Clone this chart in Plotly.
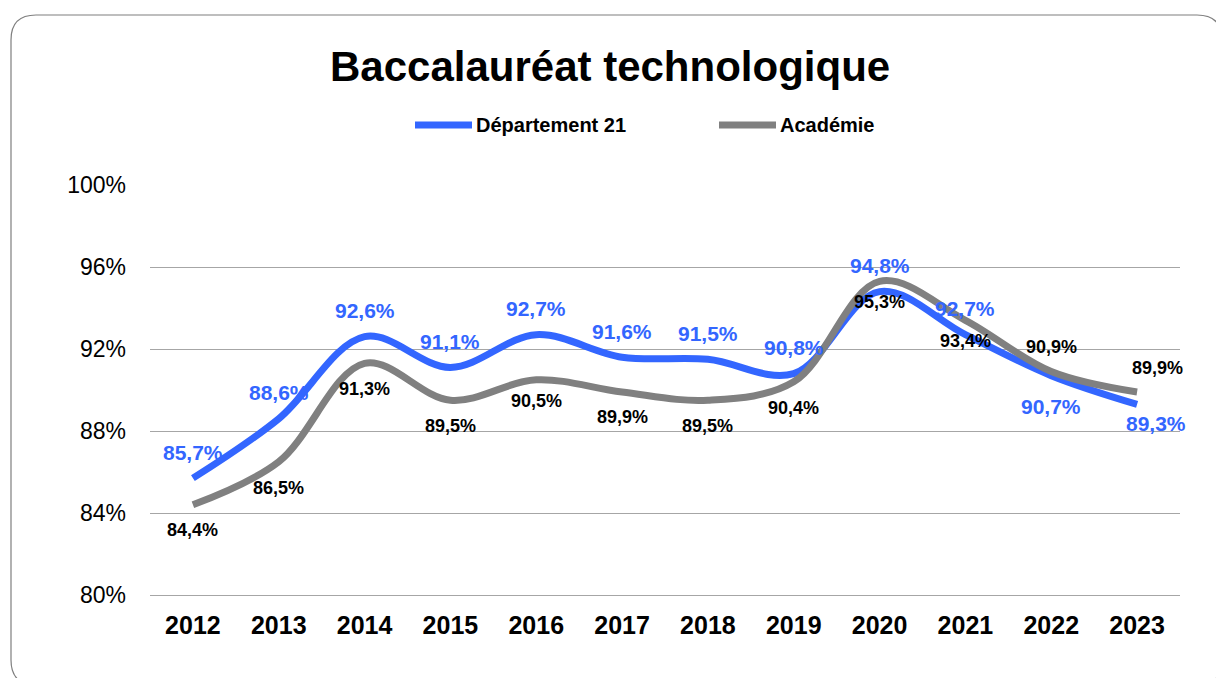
import plotly.graph_objects as go

years = ["2012", "2013", "2014", "2015", "2016", "2017", "2018", "2019", "2020", "2021", "2022", "2023"]
dept21 = [85.7, 88.6, 92.6, 91.1, 92.7, 91.6, 91.5, 90.8, 94.8, 92.7, 90.7, 89.3]
academie = [84.4, 86.5, 91.3, 89.5, 90.5, 89.9, 89.5, 90.4, 95.3, 93.4, 90.9, 89.9]
y_ticks = [80, 84, 88, 92, 96, 100]

title_text = "Baccalauréat technologique"
name_dept = "Département 21"
name_acad = "Académie"

BLUE = "#3366FF"
GRAY = "#808080"
FONT = "Liberation Sans, Arial, sans-serif"

W, H = 1216, 678
ML, MR, MT, MB = 150, 36, 185, 83
PW = W - ML - MR
PH = H - MT - MB


def px(x):
    return (x - ML) / PW


def py(y):
    return (H - MB - y) / PH


# label offsets (pixels) relative to data points
dept_shift = [(0, 26)] * 10 + [(0, -31), (19, -19)]
acad_shift = [(0, -25), (0, -26), (0, -26), (0, -26), (0, -21), (0, -25),
              (0, -26), (0, -26), (0, -21), (0, -21), (0, 25), (20, 24)]

fig = go.Figure()
fig.add_trace(go.Scatter(x=years, y=dept21, mode="lines", name=name_dept,
                         line=dict(color=BLUE, width=7, shape="spline", smoothing=1.0),
                         hoverinfo="skip", showlegend=False))
fig.add_trace(go.Scatter(x=years, y=academie, mode="lines", name=name_acad,
                         line=dict(color=GRAY, width=7, shape="spline", smoothing=1.0),
                         hoverinfo="skip", showlegend=False))


def fmt(v):
    return f"{v:.1f}".replace(".", ",") + "%"


annotations = []
for i, (v, (dx, dy)) in enumerate(zip(dept21, dept_shift)):
    annotations.append(dict(x=i, y=v, xref="x", yref="y", text=fmt(v), showarrow=False,
                            xshift=dx, yshift=dy,
                            font=dict(family=FONT, size=21, color=BLUE, weight="bold")))
for i, (v, (dx, dy)) in enumerate(zip(academie, acad_shift)):
    annotations.append(dict(x=i, y=v, xref="x", yref="y", text=fmt(v), showarrow=False,
                            xshift=dx, yshift=dy,
                            font=dict(family=FONT, size=18, color="black", weight="bold")))

# title
annotations.append(dict(x=px(610), y=py(67), xref="paper", yref="paper", text=title_text,
                        showarrow=False, xanchor="center", yanchor="middle",
                        font=dict(family=FONT, size=42, color="black", weight="bold")))
# legend texts
annotations.append(dict(x=px(474), y=py(125), xref="paper", yref="paper", text=name_dept,
                        showarrow=False, xanchor="left", yanchor="middle",
                        font=dict(family=FONT, size=20, color="black", weight="bold")))
annotations.append(dict(x=px(778), y=py(125), xref="paper", yref="paper", text=name_acad,
                        showarrow=False, xanchor="left", yanchor="middle",
                        font=dict(family=FONT, size=20, color="black", weight="bold")))

shapes = []
# legend lines
shapes.append(dict(type="line", xref="paper", yref="paper", x0=px(415), x1=px(472),
                   y0=py(125), y1=py(125), line=dict(color=BLUE, width=7)))
shapes.append(dict(type="line", xref="paper", yref="paper", x0=px(719), x1=px(776),
                   y0=py(125), y1=py(125), line=dict(color=GRAY, width=7)))

# rounded border
L, T, R, B, r = 11, 15, 1222, 685, 25
path = (f"M {px(L + r)},{py(T)} L {px(R - r)},{py(T)} Q {px(R)},{py(T)} {px(R)},{py(T + r)} "
        f"L {px(R)},{py(B - r)} Q {px(R)},{py(B)} {px(R - r)},{py(B)} "
        f"L {px(L + r)},{py(B)} Q {px(L)},{py(B)} {px(L)},{py(B - r)} "
        f"L {px(L)},{py(T + r)} Q {px(L)},{py(T)} {px(L + r)},{py(T)} Z")
shapes.append(dict(type="path", xref="paper", yref="paper", path=path,
                   line=dict(color="#7f7f7f", width=1.2), layer="below"))

fig.update_layout(
    width=W, height=H,
    margin=dict(l=ML, r=MR, t=MT, b=MB, pad=0),
    paper_bgcolor="white", plot_bgcolor="white",
    showlegend=False,
    annotations=annotations,
    shapes=shapes,
    font=dict(family=FONT, color="black"),
    xaxis=dict(type="category", range=[-0.5, 11.5], showgrid=False, zeroline=False,
               showline=True, linecolor="#a6a6a6", linewidth=1,
               ticks="", ticklabelstandoff=8,
               tickfont=dict(family=FONT, size=25, color="black", weight="bold"),
               fixedrange=True),
    yaxis=dict(range=[80, 100], tickvals=y_ticks, ticktext=[f"{t}%" for t in y_ticks],
               showgrid=True, gridcolor="#a6a6a6", gridwidth=1, zeroline=False,
               showline=False, ticks="", ticklabelstandoff=23,
               tickfont=dict(family=FONT, size=23, color="black"),
               fixedrange=True),
)

fig.write_html("out.html", config={"displayModeBar": False},
               post_script="document.body.style.margin='0';document.body.style.overflow='hidden';")
